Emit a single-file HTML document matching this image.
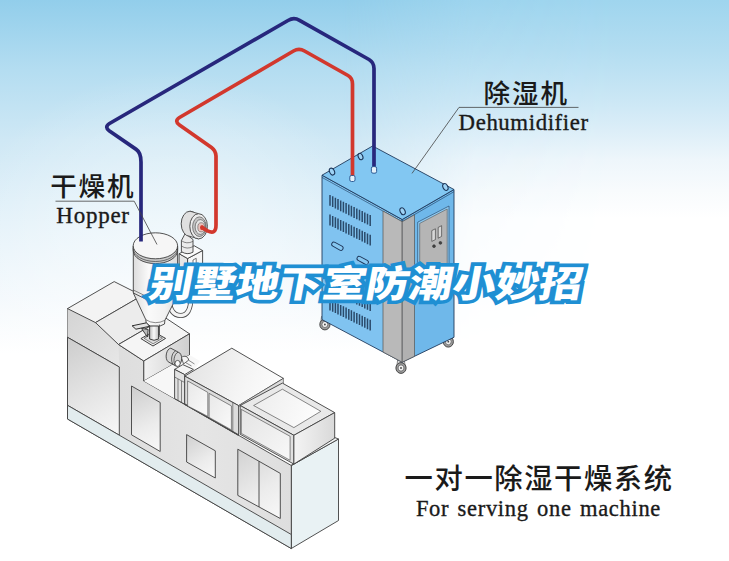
<!DOCTYPE html>
<html lang="zh">
<head>
<meta charset="utf-8">
<title>别墅地下室防潮小妙招</title>
<style>
html,body{margin:0;padding:0;background:#fff;}
body{width:729px;height:561px;overflow:hidden;position:relative;}
svg{position:absolute;left:0;top:0;display:block;}
.cn{font-family:"Liberation Sans","Noto Sans CJK SC",sans-serif;fill:#1a1a1a;font-weight:500;}
.en{font-family:"Liberation Serif","Noto Serif CJK SC",serif;fill:#1a1a1a;stroke:#1a1a1a;stroke-width:0.35px;}
.ttl{font-family:"Liberation Sans","Noto Sans CJK SC",sans-serif;font-weight:900;}
</style>
</head>
<body>
<svg width="729" height="561" viewBox="0 0 729 561">
<defs>
<linearGradient id="bg" x1="0" y1="0" x2="0" y2="1">
<stop offset="0" stop-color="#92ceeb"/>
<stop offset="0.125" stop-color="#b4ddf1"/>
<stop offset="0.25" stop-color="#cfe8f5"/>
<stop offset="0.36" stop-color="#deeff8"/>
<stop offset="0.53" stop-color="#f2f8fc"/>
<stop offset="0.63" stop-color="#ffffff"/>
<stop offset="1" stop-color="#ffffff"/>
</linearGradient>
<linearGradient id="gFront" x1="67" y1="0" x2="292" y2="0" gradientUnits="userSpaceOnUse">
<stop offset="0" stop-color="#dadada"/><stop offset="0.3" stop-color="#dfdfdf"/><stop offset="0.6" stop-color="#e5e5e5"/><stop offset="1" stop-color="#dedede"/>
</linearGradient>
<linearGradient id="gUpper" x1="67" y1="310" x2="120" y2="360" gradientUnits="userSpaceOnUse">
<stop offset="0" stop-color="#d4d4d4"/><stop offset="1" stop-color="#e6e6e6"/>
</linearGradient>
<linearGradient id="gP1" x1="67.5" y1="340" x2="119.3" y2="430" gradientUnits="userSpaceOnUse">
<stop offset="0" stop-color="#cdcdcd"/><stop offset="0.55" stop-color="#e4e4e4"/><stop offset="1" stop-color="#f6f6f6"/>
</linearGradient>
<linearGradient id="gP2" x1="131.5" y1="390" x2="160" y2="450" gradientUnits="userSpaceOnUse">
<stop offset="0" stop-color="#cfcfcf"/><stop offset="0.6" stop-color="#ececec"/><stop offset="1" stop-color="#f8f8f8"/>
</linearGradient>
<linearGradient id="gP3" x1="186.6" y1="436" x2="215" y2="478" gradientUnits="userSpaceOnUse">
<stop offset="0" stop-color="#d0d0d0"/><stop offset="0.6" stop-color="#ececec"/><stop offset="1" stop-color="#f8f8f8"/>
</linearGradient>
<linearGradient id="gP4" x1="237.8" y1="450" x2="280" y2="518" gradientUnits="userSpaceOnUse">
<stop offset="0" stop-color="#d2d2d2"/><stop offset="0.6" stop-color="#ececec"/><stop offset="1" stop-color="#f8f8f8"/>
</linearGradient>
<linearGradient id="gP5" x1="0" y1="0" x2="1" y2="1">
<stop offset="0" stop-color="#e8e8e8"/><stop offset="1" stop-color="#fafafa"/>
</linearGradient>
<linearGradient id="gP6" x1="0" y1="0" x2="1" y2="1">
<stop offset="0" stop-color="#e4e4e4"/><stop offset="1" stop-color="#f8f8f8"/>
</linearGradient>
<linearGradient id="gSide" x1="0" y1="0" x2="1" y2="0">
<stop offset="0" stop-color="#f2f2f2"/><stop offset="1" stop-color="#cfcfcf"/>
</linearGradient>
<linearGradient id="gSide2" x1="0" y1="0" x2="1" y2="0">
<stop offset="0" stop-color="#f4f4f4"/><stop offset="1" stop-color="#d9d9d9"/>
</linearGradient>
<linearGradient id="gHop" x1="133" y1="0" x2="178" y2="0" gradientUnits="userSpaceOnUse">
<stop offset="0" stop-color="#dcdcdc"/><stop offset="0.35" stop-color="#fafafa"/><stop offset="0.7" stop-color="#f2f2f2"/><stop offset="1" stop-color="#dadada"/>
</linearGradient>
<linearGradient id="gNeck" x1="149.5" y1="0" x2="159.4" y2="0" gradientUnits="userSpaceOnUse">
<stop offset="0" stop-color="#bdbdbd"/><stop offset="0.45" stop-color="#fafafa"/><stop offset="1" stop-color="#b5b5b5"/>
</linearGradient>
<linearGradient id="bgR" x1="0" y1="0" x2="0" y2="1">
<stop offset="0" stop-color="#9fd5ee"/>
<stop offset="0.09" stop-color="#b3ddf1"/>
<stop offset="0.178" stop-color="#cbe7f5"/>
<stop offset="0.232" stop-color="#dceef8"/>
<stop offset="0.285" stop-color="#eef6fb"/>
<stop offset="0.34" stop-color="#f8fbfd"/>
<stop offset="0.39" stop-color="#ffffff"/>
<stop offset="1" stop-color="#ffffff"/>
</linearGradient>
<linearGradient id="bgM" x1="0" y1="0" x2="1" y2="0">
<stop offset="0.47" stop-color="#000"/>
<stop offset="0.65" stop-color="#d4d4d4"/>
<stop offset="0.85" stop-color="#fff"/>
</linearGradient>
<mask id="mR" maskUnits="userSpaceOnUse" x="0" y="0" width="729" height="561"><rect width="729" height="561" fill="url(#bgM)"/></mask>
<linearGradient id="gMT" x1="190" y1="360" x2="275" y2="395" gradientUnits="userSpaceOnUse">
<stop offset="0" stop-color="#e4e4e4"/><stop offset="0.6" stop-color="#f4f4f4"/><stop offset="1" stop-color="#fcfcfc"/>
</linearGradient>
<linearGradient id="gMT2" x1="255" y1="395" x2="318" y2="420" gradientUnits="userSpaceOnUse">
<stop offset="0" stop-color="#ededed"/><stop offset="1" stop-color="#fdfdfd"/>
</linearGradient>
<radialGradient id="bgG" cx="170" cy="300" r="230" gradientUnits="userSpaceOnUse">
<stop offset="0" stop-color="#fff" stop-opacity="0.55"/>
<stop offset="0.5" stop-color="#fff" stop-opacity="0.35"/>
<stop offset="1" stop-color="#fff" stop-opacity="0"/>
</radialGradient>
</defs>
<rect width="729" height="561" fill="url(#bg)"/>
<rect width="729" height="561" fill="url(#bgR)" mask="url(#mR)"/>
<rect width="729" height="561" fill="url(#bgG)"/>

<!-- MACHINES -->
<g id="molder" stroke="#3e3e3e" stroke-width="0.9" stroke-linejoin="round">
<!-- base right face -->
<path d="M291.3,465.5 L338.5,439 L338.5,520.5 L291.3,548.5 Z" fill="#e9f2f4"/>
<!-- base top strip at right -->
<path d="M291.3,465.5 L338.5,439 L334.7,437.5 L293.9,462.5 Z" fill="#f4f6f6"/>
<!-- front plane -->
<path d="M67.5,308.6 L95.5,322.6 L118.5,344.5 L143.8,361 L143.8,381 L291.3,465.5 L291.3,548.5 L67.5,419 Z" fill="url(#gFront)"/>
<!-- upper-left block front part above panel1 -->
<path d="M67.5,308.6 L95.5,322.6 L118.5,344.5 L119.3,367 L67.5,337.3 Z" fill="url(#gUpper)" stroke="none"/>
<path d="M67.5,337.3 L119.3,367" fill="none"/>
<!-- panel 1 -->
<path d="M67.5,337.3 L119.3,367 L119.3,435.2 L67.5,405.3 Z" fill="url(#gP1)"/>
<!-- base band -->
<path d="M67.5,405.3 L291.3,534.5 L291.3,548.5 L67.5,419 Z" fill="#e2ecee"/>
<!-- door panel 2 -->
<path d="M131.5,386 L160.2,402.5 L160.2,451.5 L131.5,434.8 Z" fill="url(#gP2)"/>
<!-- panel 3 -->
<path d="M186.6,434.6 L215.3,450.8 L215.3,478 L186.6,462 Z" fill="url(#gP3)"/>
<!-- panel 4 double door -->
<path d="M237.8,449.2 L280.3,473.4 L280.3,518.5 L237.8,495.4 Z" fill="url(#gP4)"/>
<path d="M259,461.3 L259,507" fill="none"/>
<!-- left block top (upper step) -->
<path d="M67.5,308.6 L114.2,281.6 L142,295.6 L95.5,322.6 Z" fill="#f3f3f3"/>
<!-- slope -->
<path d="M95.5,322.6 L142,295.6 L165,317.5 L118.5,344.5 Z" fill="#ececec"/>
<!-- lower flat -->
<path d="M118.5,344.5 L165,317.5 L189.5,333.8 L143.8,361 Z" fill="#f5f5f5"/>
<!-- left block right face -->
<path d="M143.8,361 L189.5,333.8 L189.5,355 L143.8,381 Z" fill="url(#gSide)"/>
<!-- base top between blocks -->
<path d="M143.8,381 L189.5,355 L200,361 L174.6,398.6 Z" fill="#f7f7f7" stroke="none"/>
<!-- nozzle -->
<g fill="#d6d6d6">
<path d="M170.8,348.2 C166.5,348.5 164.2,358.5 168.2,361.8 L176.2,366.2 C181.5,366 183.5,357 179.8,353 Z"/>
<path d="M175.6,350.9 C171.6,352.5 170.2,361 173.2,364.6 M178,352.2 C174,353.8 172.6,362.3 175.6,365.9" fill="none" stroke-width="0.8"/>
<ellipse cx="177.6" cy="363.4" rx="2.6" ry="3" fill="#fafafa" stroke-width="0.8"/>
<path d="M181.5,357.5 C184.5,354.8 188.5,356.8 188.6,360.2 L183.5,364 Z" fill="#f4f4f4" stroke-width="0.8"/>
<path d="M188.6,360.2 L194.5,364 M186,362.8 L191.5,366" fill="none" stroke-width="0.6"/>
</g>
<!-- small clamp block -->
<path d="M174.6,369.4 L182.8,364.6 L193.4,369.4 L184.7,374.6 Z" fill="#f4f4f4"/>
<path d="M174.6,369.4 L184.7,374.6 L184.7,404.2 L174.6,398.6 Z" fill="#e2e2e2"/>
<path d="M174.6,377 L184.7,382.5 M178,379 L178,400.5 M181.5,381 L181.5,402.5" fill="none" stroke-width="0.6"/>
<!-- middle block -->
<path d="M184.7,376.1 L231.8,348.2 L283.4,378.4 L238.6,405.6 Z" fill="url(#gMT)"/>
<path d="M184.7,376.1 L238.6,405.6 L238.6,435.2 L184.7,404.2 Z" fill="#dcdcdc"/>
<path d="M184.7,404.2 L238.6,435.2" fill="none" stroke="#4a4a4a" stroke-width="1.5"/>
<path d="M187.6,380.9 L207.8,392.4 L207.8,416.4 L187.6,405.9 Z" fill="url(#gP5)" stroke-width="0.6"/>
<path d="M209.1,393.4 L231.4,405.9 L231.4,429.9 L209.1,417.4 Z" fill="url(#gP5)" stroke-width="0.6"/>
<path d="M232.8,402.4 L232.8,432" fill="none" stroke-width="0.6"/>
<path d="M238.6,405.6 L283.4,378.4 L283.4,383.5 L240.2,406.5 Z" fill="#dcdcdc" stroke-width="0.6"/>
<!-- right block -->
<path d="M240.2,405.5 L282.4,383.1 L334.7,412.6 L293.9,435.3 Z" fill="#e9e9e9"/>
<path d="M253.6,405.5 L282.4,389.2 L320.8,411.3 L293.9,427.6 Z" fill="url(#gMT2)" stroke-width="0.6"/>
<path d="M240.2,405.5 L293.9,435.3 L293.9,464.1 L240.2,434.3 Z" fill="#e0e0e0"/>
<path d="M241.3,409.4 L290.1,436.3 L290.1,460.3 L241.3,433.4 Z" fill="url(#gP6)" stroke-width="0.6"/>
<path d="M293.9,435.3 L334.7,412.6 L334.7,438.2 L293.9,464.1 Z" fill="url(#gSide2)"/>
</g>

<g id="hopper" stroke="#3e3e3e" stroke-width="0.9" stroke-linejoin="round">
<!-- U tube from blower box to cone -->
<path d="M169,296 Q169,315.5 180.8,315.5 Q191,315.5 191,296" fill="none" stroke="#4a4a4a" stroke-width="5"/>
<path d="M169,296 Q169,315.5 180.8,315.5 Q191,315.5 191,296" fill="none" stroke="#f4f4f4" stroke-width="3.4"/>
<!-- blower box -->
<path d="M179.1,253.7 L187.6,258.5 L187.6,300 L179.1,300 Z" fill="#e6e6e6"/>
<path d="M187.6,258.5 L202.6,250.5 L202.6,300 L187.6,300 Z" fill="#f6f6f6"/>
<path d="M179.1,253.7 L194.1,245.7 L202.6,250.5 L187.6,258.5 Z" fill="#fbfbfb"/>
<path d="M193,260 L196.2,258.3 L196.2,270 L193,271.7 Z" fill="#fff" stroke-width="0.7"/>
<!-- neck -->
<path d="M185.2,233.5 L181.4,240.6 L181.4,251.6 Q187,255.4 193,252.2 L193,239.5 Z" fill="#ebebeb"/>
<path d="M181.4,240.6 Q186.5,244.6 193,241.4 M181.4,246 Q187,249.8 193,246.6" fill="none" stroke-width="0.6"/>
<!-- blower -->
<ellipse cx="190" cy="223.8" rx="8.8" ry="12.6" fill="#e0e0e0"/>
<path d="M190,211.2 L198.6,213.7 L198.6,238.9 L190,236.4 Z" fill="#e0e0e0" stroke="none"/>
<path d="M190,211.2 L198.6,213.7 M190,236.4 L198.6,238.9" fill="none" stroke-width="0.8"/>
<ellipse cx="198.6" cy="226.3" rx="8.8" ry="12.6" fill="#ececec"/>
<ellipse cx="199.4" cy="226.7" rx="6.8" ry="9.8" fill="#c6c6c6" stroke-width="0.6"/>
<ellipse cx="200.3" cy="227" rx="5.2" ry="7.4" fill="#e6e6e6" stroke-width="0.6"/>
<ellipse cx="201.2" cy="227.3" rx="3.4" ry="4.6" fill="#e8c2bc" stroke-width="0.5"/>
<ellipse cx="202" cy="227.5" rx="2" ry="2.6" fill="#d2382d" stroke="none"/>
<!-- cone -->
<path d="M133.3,293 L145.8,319.7 L146.3,324 Q155.2,329.6 164.5,324 L164.9,320.3 L177.6,295 Z" fill="url(#gHop)"/>
<path d="M145.8,319.7 Q155.2,325.4 164.9,320.3" fill="none" stroke-width="0.6"/>
<!-- neck below cone -->
<path d="M149.5,325 L149.5,339.5 Q154.4,342 159.4,339.5 L159.4,324.6" fill="#e8e8e8"/>
<!-- base plate -->
<path d="M140.9,338.6 L153.2,331.6 L165.6,338.4 L153,346 Z" fill="#f0f0f0" stroke-width="1"/>
<path d="M144,338.3 L153.2,333.2 L162.5,338.2 L153.1,343.8 Z" fill="#dcdcdc" stroke-width="0.6"/>
<path d="M149.6,326 L149.6,339 Q154,341.6 158.6,339 L158.6,326 Z" fill="url(#gNeck)" stroke-width="1"/>
<!-- slide gate -->
<path d="M132.1,325.8 L146.6,322.8 L149.6,326.3 L135.9,329.2 Z" fill="#e2e2e2" stroke="#2e2e2e" stroke-width="1"/>
<path d="M141.5,328.4 L147.4,337 L148.2,329.5 Z" fill="#bdbdbd" stroke="#2e2e2e" stroke-width="0.9"/>
<!-- cylinder body -->
<path d="M133.3,246.2 L133.3,293 Q155.4,307 177.6,295 L177.6,246.2 Z" fill="url(#gHop)"/>
<path d="M133.3,290 Q155.4,304 177.6,292" fill="none" stroke-width="0.6"/>
<!-- lid -->
<path d="M133.2,246.2 L133.2,250.4 A22.2,13.2 0 0 0 177.6,250.4 L177.6,246.2 Z" fill="#c9c9c9"/>
<path d="M133.2,248.3 A22.2,13.2 0 0 0 177.6,248.3" fill="none" stroke-width="0.7"/>
<ellipse cx="155.4" cy="245.8" rx="22.2" ry="13" fill="#f6f6f6"/>
</g>

<g id="dehum" stroke="#1f3a5c" stroke-width="0.9" stroke-linejoin="round">
<!-- wheels -->
<g stroke="#444" stroke-width="0.8">
<g><path d="M321.5,316.5 L328.29999999999995,316.5 L329.09999999999997,323.5 L320.7,323.5 Z" fill="#dedede" stroke-width="0.6"/><ellipse cx="324.9" cy="324.5" rx="5.1" ry="5.4" fill="#9c9c9c" stroke="#3a3a3a" stroke-width="0.9"/><ellipse cx="324.9" cy="324.5" rx="2.9" ry="3.1" fill="#f2f2f2" stroke="#444" stroke-width="0.6"/><circle cx="324.9" cy="324.5" r="0.9" fill="#444" stroke="none"/></g>
<g><path d="M397.6,360 L404.4,360 L405.2,367 L396.8,367 Z" fill="#dedede" stroke-width="0.6"/><ellipse cx="401" cy="368" rx="5.1" ry="5.4" fill="#9c9c9c" stroke="#3a3a3a" stroke-width="0.9"/><ellipse cx="401" cy="368" rx="2.9" ry="3.1" fill="#f2f2f2" stroke="#444" stroke-width="0.6"/><circle cx="401" cy="368" r="0.9" fill="#444" stroke="none"/></g>
<g><path d="M444.90000000000003,333.7 L451.7,333.7 L452.5,340.7 L444.1,340.7 Z" fill="#dedede" stroke-width="0.6"/><ellipse cx="448.3" cy="341.7" rx="5.1" ry="5.4" fill="#9c9c9c" stroke="#3a3a3a" stroke-width="0.9"/><ellipse cx="448.3" cy="341.7" rx="2.9" ry="3.1" fill="#f2f2f2" stroke="#444" stroke-width="0.6"/><circle cx="448.3" cy="341.7" r="0.9" fill="#444" stroke="none"/></g>
</g>
<!-- left face -->
<path d="M322,175.2 L402.2,219.5 L402.2,362.2 L322,319.6 Z" fill="#80c3f0"/>
<!-- right face -->
<path d="M402.2,219.5 L454,189.5 L454,337.3 L402.2,362.2 Z" fill="#6fb8ea"/>
<!-- top -->
<path d="M322,175.2 L372.6,146 L454,189.5 L402.2,219.5 Z" fill="#82c7f2"/>
<!-- lid rim -->
<path d="M322,177.4 L402.2,221.7 L454,191.7" fill="none" stroke-width="0.6"/>
<!-- gray panels -->
<path d="M383,211 L402.2,221.7 L402.2,362.2 L383,352 Z" fill="#b9b9b9" stroke="#555" stroke-width="0.7"/>
<path d="M402.2,221.7 L414.5,214.7 L414.5,356.3 L402.2,362.2 Z" fill="#b1b1b1" stroke="#555" stroke-width="0.7"/>
<!-- control panel -->
<path d="M417.7,222.2 L449,206 L449,266 L417.7,284 Z" fill="#8fcbf2" stroke="#1f3a5c" stroke-width="0.6"/>
<path d="M419.7,223.4 L447.2,209 L447.2,264.5 L419.7,280.8 Z" fill="#b5b5b5" stroke="#555" stroke-width="0.6"/>
<g stroke="#333" stroke-width="0.6" fill="#d8d8d8">
<path d="M431.8,230.6 L435.4,228.8 L435.4,239.6 L431.8,241.4 Z"/>
<path d="M438.2,227.4 L441.6,225.7 L441.6,236.4 L438.2,238.2 Z"/>
<circle cx="434" cy="246.2" r="1.4" fill="#444"/>
<circle cx="440.4" cy="242.9" r="1.4" fill="#444"/>
</g>
<!-- vents -->
<g stroke="#2a4a6a" stroke-width="1.5" fill="none" id="vents">
<path d="M330.0,195.0v10.8 M332.7,196.3v10.8 M335.4,197.7v10.8 M338.0,199.0v10.8 M340.7,200.4v10.8 M343.4,201.7v10.8 M346.1,203.0v10.8 M348.8,204.4v10.8 M351.4,205.7v10.8 M354.1,207.1v10.8 M356.8,208.4v10.8 M359.5,209.7v10.8 M362.2,211.1v10.8 M364.8,212.4v10.8 M367.5,213.8v10.8 M370.2,215.1v10.8"/>
<path d="M330.0,214.6v10.8 M332.7,215.9v10.8 M335.4,217.3v10.8 M338.0,218.6v10.8 M340.7,220.0v10.8 M343.4,221.3v10.8 M346.1,222.6v10.8 M348.8,224.0v10.8 M351.4,225.3v10.8 M354.1,226.7v10.8 M356.8,228.0v10.8 M359.5,229.3v10.8 M362.2,230.7v10.8 M364.8,232.0v10.8 M367.5,233.4v10.8 M370.2,234.7v10.8"/>
<path d="M330.0,280.2v10.8 M332.7,281.5v10.8 M335.4,282.9v10.8 M338.0,284.2v10.8 M340.7,285.6v10.8 M343.4,286.9v10.8 M346.1,288.2v10.8 M348.8,289.6v10.8 M351.4,290.9v10.8 M354.1,292.3v10.8 M356.8,293.6v10.8 M359.5,294.9v10.8 M362.2,296.3v10.8 M364.8,297.6v10.8 M367.5,299.0v10.8 M370.2,300.3v10.8"/>
<path d="M330.0,299.6v10.8 M332.7,300.9v10.8 M335.4,302.3v10.8 M338.0,303.6v10.8 M340.7,305.0v10.8 M343.4,306.3v10.8 M346.1,307.6v10.8 M348.8,309.0v10.8 M351.4,310.3v10.8 M354.1,311.7v10.8 M356.8,313.0v10.8 M359.5,314.3v10.8 M362.2,315.7v10.8 M364.8,317.0v10.8 M367.5,318.4v10.8 M370.2,319.7v10.8"/>
</g>
<!-- handles -->
<g fill="#86c7f1" stroke="#1c3558" stroke-width="0.9">
<rect x="-6.2" y="-2.2" width="12.4" height="4.4" rx="2.2" transform="translate(337.4,246.2) rotate(29)"/>
<rect x="-6.2" y="-2.2" width="12.4" height="4.4" rx="2.2" transform="translate(362.7,260.4) rotate(29)"/>
</g>
<!-- lifting rings -->
<g fill="#9ed3f5" stroke="#1c3558" stroke-width="1.1">
<ellipse cx="332" cy="171.6" rx="2.4" ry="3.6" transform="rotate(-25 332 171.6)"/>
<ellipse cx="360.5" cy="156.5" rx="2.2" ry="3.4" transform="rotate(-25 360.5 156.5)"/>
<ellipse cx="445.4" cy="187" rx="2.4" ry="3.6" transform="rotate(-25 445.4 187)"/>
<ellipse cx="402.6" cy="211.3" rx="2.4" ry="3.6" transform="rotate(-25 402.6 211.3)"/>
</g>
</g>


<!-- PIPES -->
<g fill="none" stroke-width="3.7" stroke-linecap="butt" stroke-linejoin="round">
<path stroke="#27277c" d="M141,241.5 L141,162 Q141,152.6 136.2,149.4 L109.5,131 Q104,127 109.5,123.5 L288,20.5 Q293.8,17 299.5,20.3 L369,59.5 Q374,62.5 374,68.5 L374,167.5"/>
<path stroke="#d2382d" d="M202.3,227.6 L207.5,230.8 Q216,235 216,225 L216,156 Q215.7,150.5 211.5,147.5 L179.5,125 Q174,121 179.5,117.5 L293.5,51 Q299,47.8 304.5,51 L348,75.5 Q352.5,78 352.5,84 L352.5,176"/>
</g>

<!-- pipe sockets -->
<g fill="#e4f1fa" stroke="#1f4f8c" stroke-width="0.9">
<rect x="349.8" y="175.5" width="5.2" height="6" rx="1.6"/>
<rect x="371.4" y="166.6" width="5.2" height="6.6" rx="1.6"/>
</g>
<!-- LABELS -->
<g stroke="#444" stroke-width="0.8" fill="none">
<path d="M55.5,201.2 L134.2,201.2 L157,244.5"/>
<path d="M578.5,107.4 L459,107.4 L412,173.4"/>
</g>
<text class="cn" x="50.2" y="195.6" font-size="26.6" letter-spacing="1.8">干燥机</text>
<text class="en" x="56.3" y="222.5" font-size="23" letter-spacing="0.75">Hopper</text>
<text class="cn" x="483.6" y="103.2" font-size="26.6" letter-spacing="1.8">除湿机</text>
<text class="en" x="458.6" y="129.5" font-size="22.8" letter-spacing="0.6">Dehumidifier</text>
<text class="cn" x="404.6" y="489.2" font-size="28.3" letter-spacing="1.6">一对一除湿干燥系统</text>
<text class="en" x="415.9" y="515.5" font-size="22.5" letter-spacing="0.7" word-spacing="2">For serving one machine</text>

<!-- TITLE -->
<g transform="translate(147.5,297.3) skewX(-10.5) scale(1.119,0.955)">
<text class="ttl" x="0" y="0" font-size="38.7" fill="#fff" stroke="#1f8fd3" stroke-width="7.6" stroke-linejoin="miter" stroke-miterlimit="2.5" paint-order="stroke">别墅地下室防潮小妙招</text>
</g>
</svg>
</body>
</html>
